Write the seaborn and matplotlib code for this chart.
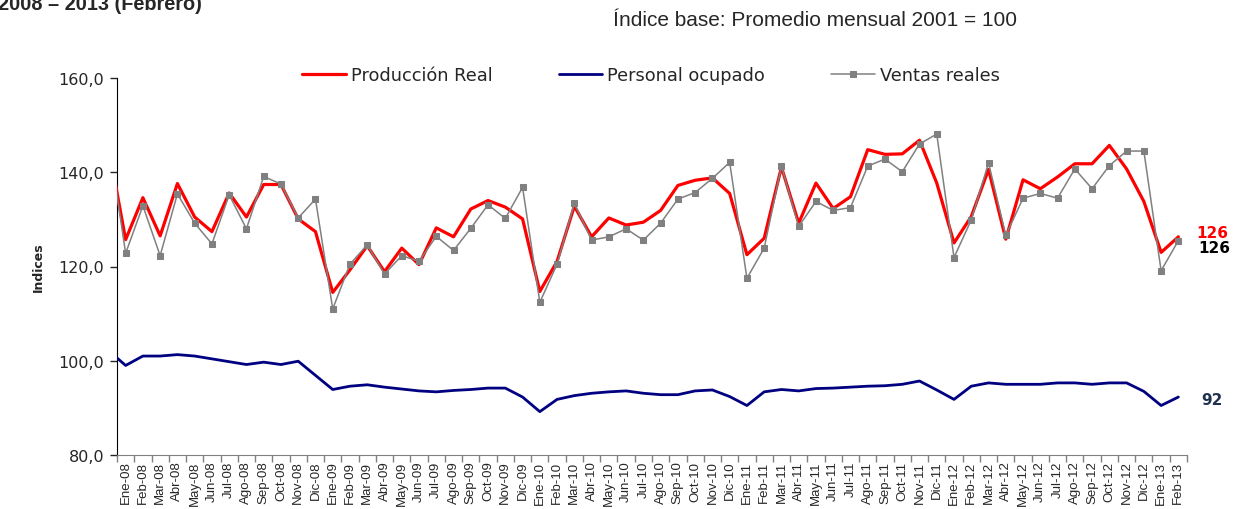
import numpy as np
import pandas as pd
import seaborn as sns
from matplotlib import pyplot as plt
from matplotlib.ticker import FixedLocator, FuncFormatter

sns.set_style('white')
plt.rcParams['font.family'] = ['DejaVu Sans']

# months; first one (Dic-07) sits just left of the axis and is clipped like in the original
meses = ['Dic-07',
         'Ene-08','Feb-08','Mar-08','Abr-08','May-08','Jun-08','Jul-08','Ago-08','Sep-08','Oct-08','Nov-08','Dic-08',
         'Ene-09','Feb-09','Mar-09','Abr-09','May-09','Jun-09','Jul-09','Ago-09','Sep-09','Oct-09','Nov-09','Dic-09',
         'Ene-10','Feb-10','Mar-10','Abr-10','May-10','Jun-10','Jul-10','Ago-10','Sep-10','Oct-10','Nov-10','Dic-10',
         'Ene-11','Feb-11','Mar-11','Abr-11','May-11','Jun-11','Jul-11','Ago-11','Sep-11','Oct-11','Nov-11','Dic-11',
         'Ene-12','Feb-12','Mar-12','Abr-12','May-12','Jun-12','Jul-12','Ago-12','Sep-12','Oct-12','Nov-12','Dic-12',
         'Ene-13','Feb-13']

produccion = [145.7,
              125.7,134.6,126.5,137.6,130.5,127.4,135.6,130.5,137.4,137.4,130.1,127.4,
              114.5,119.3,124.4,118.9,123.9,120.4,128.2,126.3,132.2,134.0,132.6,130.1,
              114.7,121.1,132.8,126.3,130.3,128.8,129.4,131.9,137.2,138.3,138.8,135.5,
              122.5,126.0,141.1,129.2,137.7,132.3,134.8,144.8,143.8,143.9,146.8,137.7,
              125.0,130.6,140.6,125.8,138.4,136.5,139.0,141.8,141.8,145.7,140.7,133.8,
              123.0,126.3]

personal = [102.2,
            99.0,101.0,101.0,101.3,101.0,100.4,99.8,99.2,99.7,99.2,99.9,96.9,
            93.9,94.6,94.9,94.4,94.0,93.6,93.4,93.7,93.9,94.2,94.2,92.3,
            89.2,91.8,92.6,93.1,93.4,93.6,93.1,92.8,92.8,93.6,93.8,92.4,
            90.5,93.4,93.9,93.6,94.1,94.2,94.4,94.6,94.7,95.0,95.7,93.8,
            91.8,94.6,95.3,95.0,95.0,95.0,95.3,95.3,95.0,95.3,95.3,93.5,
            90.5,92.3]

ventas = [147.5,
          122.8,132.9,122.3,135.4,129.2,124.8,135.2,128.0,139.1,137.5,130.3,134.3,
          111.0,120.5,124.6,118.4,122.3,121.1,126.4,123.4,128.1,133.1,130.2,136.8,
          112.4,120.5,133.4,125.6,126.3,128.0,125.6,129.2,134.3,135.7,138.7,142.1,
          117.5,123.9,141.3,128.5,133.8,131.9,132.5,141.3,142.8,140.1,146.0,148.1,
          121.9,129.9,142.0,126.6,134.5,135.5,134.5,140.7,136.5,141.4,144.5,144.5,
          119.1,125.5]

df = pd.DataFrame({'pos': np.arange(len(meses)), 'mes': meses,
                   'Producción Real': produccion,
                   'Personal ocupado': personal,
                   'Ventas reales': ventas})

fig = plt.figure(figsize=(12.37, 5.10), dpi=100)
ax = fig.add_axes([117/1237, 1-456/510, (1187-117)/1237, (456-79)/510])

sns.lineplot(data=df, x='pos', y='Producción Real', color='#FF0000', linewidth=2.3,
             ax=ax, label='Producción Real', zorder=3)
sns.lineplot(data=df, x='pos', y='Personal ocupado', color='#000080', linewidth=2.0,
             ax=ax, label='Personal ocupado', zorder=3)
sns.lineplot(data=df, x='pos', y='Ventas reales', color='#808080', linewidth=1.1,
             marker='s', markersize=5, markeredgecolor='#808080', ax=ax,
             label='Ventas reales', zorder=4)

ax.set_xlim(0.5, len(meses) - 0.5)
ax.set_ylim(80, 160)
ax.set_yticks([80, 100, 120, 140, 160])
ax.yaxis.set_major_formatter(FuncFormatter(lambda v, p: f'{v:.1f}'.replace('.', ',')))
ax.tick_params(axis='y', length=5, width=1, direction='out', left=True, labelsize=11.5, pad=4)

ax.set_xticks(df['pos'][1:])
ax.set_xticklabels(df['mes'][1:], rotation=90, fontsize=9.5, family='Liberation Sans')
ax.xaxis.set_minor_locator(FixedLocator(np.arange(0.5, len(meses), 1.0)))
ax.tick_params(axis='x', which='major', length=0, pad=4)
ax.tick_params(axis='x', which='minor', length=5, width=1, direction='out', bottom=True, color='#808080')

ax.spines['top'].set_visible(False)
ax.spines['right'].set_visible(False)
ax.spines['left'].set_color('black')
ax.spines['bottom'].set_color('#808080')
ax.set_xlabel('')
ax.set_ylabel('Indices', fontsize=9, fontweight='bold', labelpad=10)

ax.get_legend().remove()
h, l = ax.get_legend_handles_labels()
fig.legend(h, l, loc='center', bbox_to_anchor=(651/1237, 1-76/510), ncol=3, frameon=False,
           fontsize=12.8, handlelength=2.45, handletextpad=0.3, columnspacing=3.7)

# last values at right of the plot
ax.annotate(f'{produccion[-1]:.0f}', xy=(1.0, produccion[-1]), xycoords=('axes fraction', 'data'),
            xytext=(7, 3), textcoords='offset points', color='#FF0000', fontsize=11,
            fontweight='bold', va='center', annotation_clip=False)
ax.annotate(f'{ventas[-1]:.0f}', xy=(1.0, ventas[-1]), xycoords=('axes fraction', 'data'),
            xytext=(8, -5), textcoords='offset points', color='black', fontsize=11,
            fontweight='bold', va='center', annotation_clip=False)
ax.annotate(f'{personal[-1]:.0f}', xy=(1.0, personal[-1]), xycoords=('axes fraction', 'data'),
            xytext=(10, -2), textcoords='offset points', color='#1F3050', fontsize=11,
            fontweight='bold', va='center', annotation_clip=False)

fig.text(-0.002, 1-10/510, '2008 – 2013 (Febrero)', fontsize=14.3, fontweight='bold',
         family='Liberation Sans', va='baseline', ha='left')
fig.text(613/1237, 1-20/510, 'Índice base: Promedio mensual 2001 = 100', fontsize=15,
         family='Liberation Sans', va='center', ha='left')

fig.savefig('out.png', dpi=100)
